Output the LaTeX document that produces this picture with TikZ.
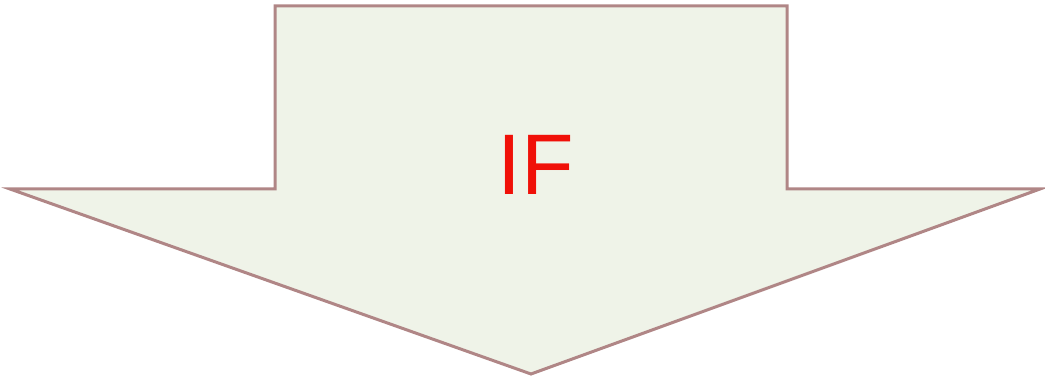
\documentclass[tikz,border=0pt]{standalone}
\usepackage{fontspec}
\setmainfont{Liberation Sans}
\usepackage{xcolor}
\usepackage{tikz}
\definecolor{ifFill}{HTML}{EFF3E8}
\definecolor{ifLine}{HTML}{B08686}
\definecolor{ifRed}{HTML}{F01008}
\tikzset{
  bigarrow/.style={
    draw=ifLine,
    fill=ifFill,
    line width=3pt,
    line join=miter
  },
  label/.style={
    text=ifRed,
    font=\fontsize{86}{90}\selectfont,
    inner sep=0pt
  }
}
\begin{document}
\begin{tikzpicture}[x=1pt,y=-1pt]
  \useasboundingbox (0,0) rectangle (1045,379);
  \draw[bigarrow] (275,6) -- (787,6) -- (787,189) -- (1040,189) -- (531,374)
    -- (10,189) -- (275,189) -- cycle;
  \node[label, anchor=base] (cond) at (536,195) {IF};
\end{tikzpicture}
\end{document}
